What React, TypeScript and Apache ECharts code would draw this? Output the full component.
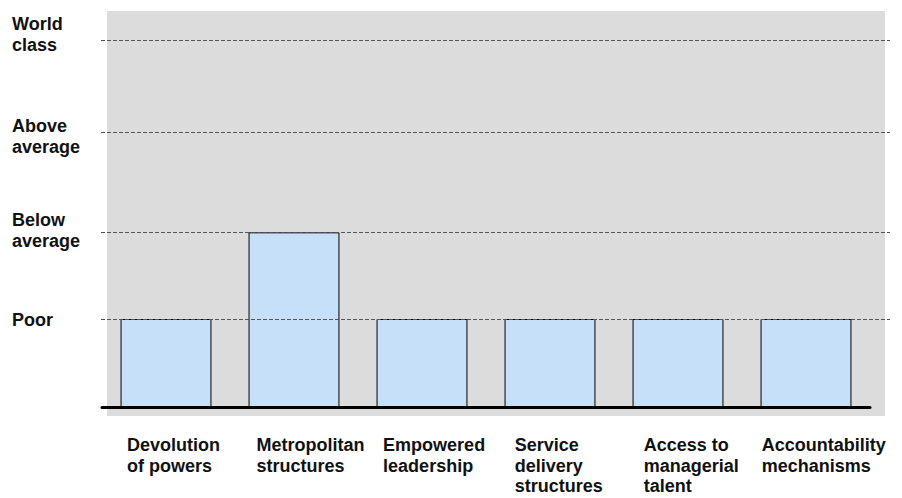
import React, { useEffect, useRef } from 'react';
import * as echarts from 'echarts';

// Data
const categories = [
  'Devolution\nof powers',
  'Metropolitan\nstructures',
  'Empowered\nleadership',
  'Service\ndelivery\nstructures',
  'Access to\nmanagerial\ntalent',
  'Accountability\nmechanisms',
];
const levelNames = ['Poor', 'Below\naverage', 'Above\naverage', 'World\nclass'];
const levelValues = [1, 1.985, 3.12, 4.17];
const barLevels = [0, 1, 0, 0, 0, 0];
const barValues = barLevels.map((i) => levelValues[i]);

export default function App() {
  const ref = useRef<HTMLDivElement>(null);

  useEffect(() => {
    if (!ref.current) return;
    const chart = echarts.init(ref.current, undefined, { renderer: 'svg' });
    const font = 'bold 18px "Liberation Sans", Arial, Helvetica, sans-serif';

    chart.setOption({
      animation: false,
      backgroundColor: '#ffffff',
      grid: { left: 102, right: 32, top: 11, height: 396, containLabel: false },
      xAxis: {
        type: 'category',
        data: categories,
        axisLine: { show: true, lineStyle: { color: '#000', width: 3 } },
        axisTick: { show: false },
        axisLabel: { show: false },
        splitLine: { show: false },
      },
      yAxis: {
        type: 'value',
        min: 0,
        max: 4.5,
        axisLine: { show: false },
        axisTick: { show: false },
        axisLabel: { show: false },
        splitLine: { show: false },
      },
      series: [
        {
          type: 'bar',
          data: barValues,
          barWidth: '71%',
          itemStyle: { color: '#c6e0fa', borderColor: '#000', borderWidth: 1 },
          z: 2,
        },
      ],
    });

    // Layout of free-standing texts (pixels)
    const levelLabelTop = [309.5, 209, 115.3, 13.5];
    const catLabelDx = [-38.9, -37.5, -38.9, -35.2, -34.2, -44.2];
    const catLabelTop = 435.2;

    const graphics: any[] = [
      {
        type: 'rect',
        id: 'bg',
        z: -10,
        silent: true,
        shape: { x: 107, y: 11, width: 778, height: 405 },
        style: { fill: '#dcdcdc' },
      },
    ];

    levelValues.forEach((v, i) => {
      const y = Math.round(chart.convertToPixel({ yAxisIndex: 0 }, v) as number) + 0.5;
      graphics.push({
        type: 'line',
        id: 'lvl' + i,
        z: 100,
        silent: true,
        shape: { x1: 101, y1: y, x2: 890, y2: y },
        style: { stroke: '#555', lineWidth: 1, lineDash: [4, 2] },
      });
      graphics.push({
        type: 'text',
        id: 'lvlt' + i,
        z: 100,
        x: 12,
        y: levelLabelTop[i],
        style: {
          text: levelNames[i],
          font,
          fill: '#111',
          lineHeight: 21,
          align: 'left',
          verticalAlign: 'top',
        },
      });
    });

    categories.forEach((c, i) => {
      const cx = chart.convertToPixel({ xAxisIndex: 0 }, i) as number;
      graphics.push({
        type: 'text',
        id: 'cat' + i,
        z: 100,
        x: cx + catLabelDx[i],
        y: catLabelTop,
        style: {
          text: c,
          font,
          fill: '#111',
          lineHeight: 20.5,
          align: 'left',
          verticalAlign: 'top',
        },
      });
    });

    chart.setOption({ graphic: graphics });

    return () => chart.dispose();
  }, []);

  return (
    <div
      ref={ref}
      style={{ position: 'fixed', left: 0, top: 0, width: 902, height: 498 }}
    />
  );
}
